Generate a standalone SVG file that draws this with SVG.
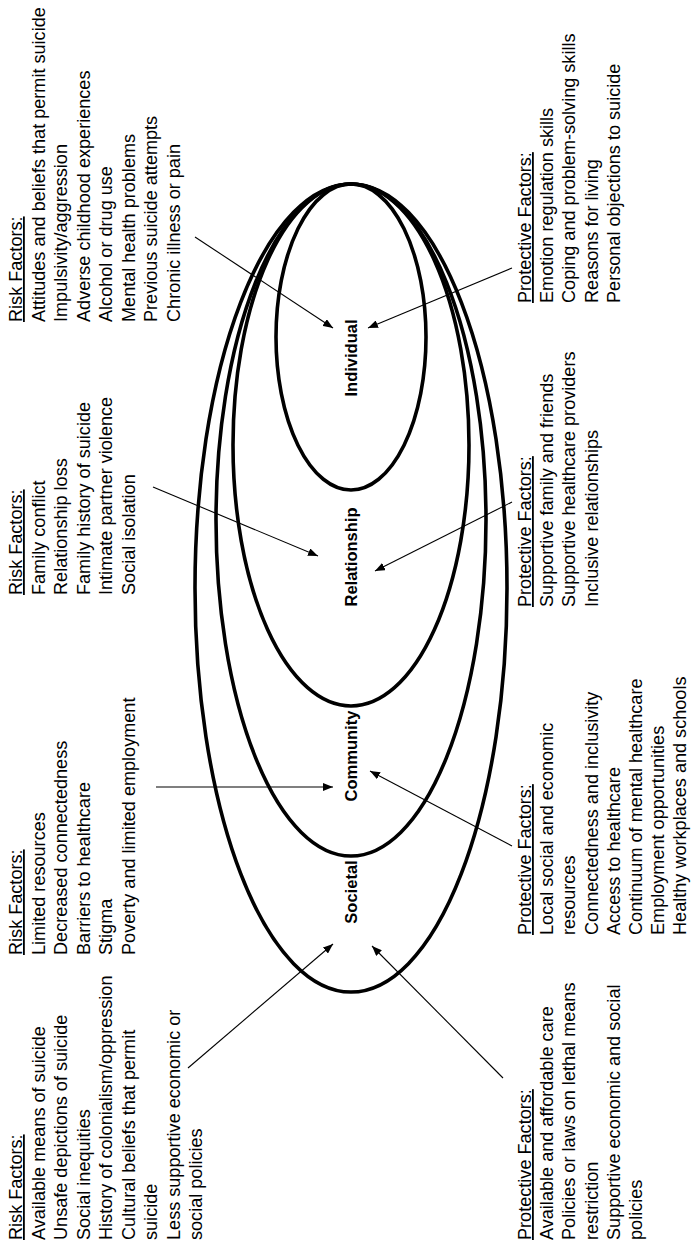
<svg xmlns="http://www.w3.org/2000/svg" width="691" height="1247" viewBox="0 0 691 1247">
<style>
.ring{fill:none;stroke:#000;stroke-width:3.6}
.lbl{font-family:"Liberation Sans",Arial,sans-serif;font-weight:bold;font-size:16.5px;fill:#000;text-anchor:middle}
.blk{font-family:"Liberation Sans",Arial,sans-serif;font-size:18.1px;fill:#000}
.hd{text-decoration:underline}
.con{stroke:#000;stroke-width:1.1;fill:none;marker-end:url(#ah)}
</style>
<defs>
<marker id="ah" viewBox="0 0 10 8" refX="10" refY="4" markerWidth="10" markerHeight="8" markerUnits="userSpaceOnUse" orient="auto">
<path d="M0,0 L10,4 L0,8 Z" fill="#000"/>
</marker>
</defs>
<rect width="691" height="1247" fill="#fff"/>

<g id="societal">
<ellipse class="ring" cx="351" cy="588" rx="156" ry="404"/>
<text class="lbl" transform="translate(357,892) rotate(-90)">Societal</text>
</g>
<g id="community">
<ellipse class="ring" cx="351" cy="520" rx="135" ry="336"/>
<text class="lbl" transform="translate(357,756) rotate(-90)">Community</text>
</g>
<g id="relationship">
<ellipse class="ring" cx="351" cy="445" rx="118" ry="261"/>
<text class="lbl" transform="translate(357,557) rotate(-90)">Relationship</text>
</g>
<g id="individual">
<ellipse class="ring" cx="351" cy="337" rx="75" ry="153"/>
<text class="lbl" transform="translate(357,358) rotate(-90)">Individual</text>
</g>

<g id="societal-risk">
<text class="blk" transform="rotate(-90)" x="-1240" y="22"><tspan class="hd">Risk Factors:</tspan><tspan x="-1240" dy="22.5">Available means of suicide</tspan><tspan x="-1240" dy="22.5">Unsafe depictions of suicide</tspan><tspan x="-1240" dy="22.5">Social inequities</tspan><tspan x="-1240" dy="22.5">History of colonialism/oppression</tspan><tspan x="-1240" dy="22.5">Cultural beliefs that permit</tspan><tspan x="-1240" dy="22.5">suicide</tspan><tspan x="-1240" dy="22.5">Less supportive economic or</tspan><tspan x="-1240" dy="22.5">social policies</tspan></text>
</g>
<g id="community-risk">
<text class="blk" transform="rotate(-90)" x="-955" y="22"><tspan class="hd">Risk Factors:</tspan><tspan x="-955" dy="22.5">Limited resources</tspan><tspan x="-955" dy="22.5">Decreased connectedness</tspan><tspan x="-955" dy="22.5">Barriers to healthcare</tspan><tspan x="-955" dy="22.5">Stigma</tspan><tspan x="-955" dy="22.5">Poverty and limited employment</tspan></text>
</g>
<g id="relationship-risk">
<text class="blk" transform="rotate(-90)" x="-595" y="22"><tspan class="hd">Risk Factors:</tspan><tspan x="-595" dy="22.5">Family conflict</tspan><tspan x="-595" dy="22.5">Relationship loss</tspan><tspan x="-595" dy="22.5">Family history of suicide</tspan><tspan x="-595" dy="22.5">Intimate partner violence</tspan><tspan x="-595" dy="22.5">Social isolation</tspan></text>
</g>
<g id="individual-risk">
<text class="blk" transform="rotate(-90)" x="-322" y="22"><tspan class="hd">Risk Factors:</tspan><tspan x="-322" dy="22.5">Attitudes and beliefs that permit suicide</tspan><tspan x="-322" dy="22.5">Impulsivity/aggression</tspan><tspan x="-322" dy="22.5">Adverse childhood experiences</tspan><tspan x="-322" dy="22.5">Alcohol or drug use</tspan><tspan x="-322" dy="22.5">Mental health problems</tspan><tspan x="-322" dy="22.5">Previous suicide attempts</tspan><tspan x="-322" dy="22.5">Chronic illness or pain</tspan></text>
</g>

<g id="societal-protective">
<text class="blk" transform="rotate(-90)" x="-1240" y="531"><tspan class="hd">Protective Factors:</tspan><tspan x="-1240" dy="22.2">Available and affordable care</tspan><tspan x="-1240" dy="22.2">Policies or laws on lethal means</tspan><tspan x="-1240" dy="22.2">restriction</tspan><tspan x="-1240" dy="22.2">Supportive economic and social</tspan><tspan x="-1240" dy="22.2">policies</tspan></text>
</g>
<g id="community-protective">
<text class="blk" transform="rotate(-90)" x="-935" y="531"><tspan class="hd">Protective Factors:</tspan><tspan x="-935" dy="22.2">Local social and economic</tspan><tspan x="-935" dy="22.2">resources</tspan><tspan x="-935" dy="22.2">Connectedness and inclusivity</tspan><tspan x="-935" dy="22.2">Access to healthcare</tspan><tspan x="-935" dy="22.2">Continuum of mental healthcare</tspan><tspan x="-935" dy="22.2">Employment opportunities</tspan><tspan x="-935" dy="22.2">Healthy workplaces and schools</tspan></text>
</g>
<g id="relationship-protective">
<text class="blk" transform="rotate(-90)" x="-607" y="531"><tspan class="hd">Protective Factors:</tspan><tspan x="-607" dy="22.2">Supportive family and friends</tspan><tspan x="-607" dy="22.2">Supportive healthcare providers</tspan><tspan x="-607" dy="22.2">Inclusive relationships</tspan></text>
</g>
<g id="individual-protective">
<text class="blk" transform="rotate(-90)" x="-303" y="531"><tspan class="hd">Protective Factors:</tspan><tspan x="-303" dy="22.2">Emotion regulation skills</tspan><tspan x="-303" dy="22.2">Coping and problem-solving skills</tspan><tspan x="-303" dy="22.2">Reasons for living</tspan><tspan x="-303" dy="22.2">Personal objections to suicide</tspan></text>
</g>

<g id="connectors">
<line class="con" x1="188" y1="1068" x2="333" y2="944"/>
<line class="con" x1="503" y1="1078" x2="372" y2="946"/>
<line class="con" x1="156" y1="787" x2="333" y2="787"/>
<line class="con" x1="512" y1="846" x2="370" y2="771"/>
<line class="con" x1="153" y1="487" x2="318" y2="556"/>
<line class="con" x1="512" y1="502" x2="375" y2="571"/>
<line class="con" x1="195" y1="237" x2="333" y2="328"/>
<line class="con" x1="512" y1="268" x2="368" y2="328"/>
</g>
</svg>
